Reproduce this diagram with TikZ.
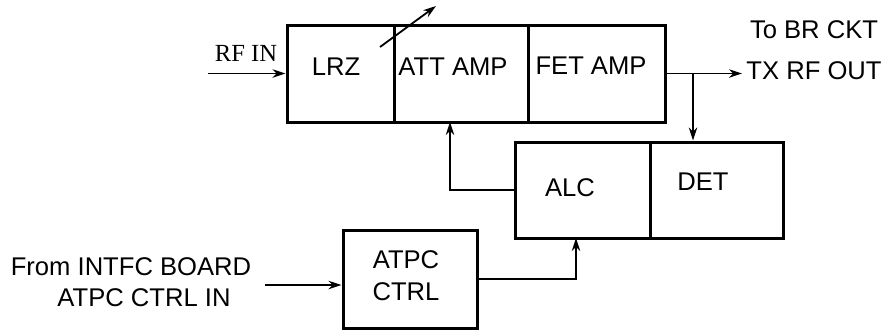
\documentclass[tikz,border=0pt]{standalone}
\usepackage{fontspec}
\setmainfont{Liberation Sans}
\newfontfamily\serifrm{Liberation Serif}
\usetikzlibrary{arrows.meta}
\begin{document}
\begin{tikzpicture}[x=0.5pt,y=-0.5pt,
  blk/.style={draw, line width=1.5pt, inner sep=0pt, minimum height=48.5pt},
  txt/.style={inner sep=0pt, font=\fontsize{12.8}{15}\selectfont},
  conn/.style={line width=0.9pt, -{Stealth[length=6.5pt,width=4.2pt]}},
  wire/.style={line width=0.9pt}]
\useasboundingbox (0,0) rectangle (886,334);
% top chain
\node[blk, minimum width=53.5pt] (lrz) at (340.5,73.5) {};
\node[blk, minimum width=67pt] (att) at (461,73.5) {};
\node[blk, minimum width=68.5pt] (fet) at (596.5,73.5) {};
\node[txt] (tlrz) at (336,67) {LRZ};
\node[txt] (tatt) at (453,67) {ATT AMP};
\node[txt] (tfet) at (591,66) {FET AMP};
% ALC / DET
\node[blk, minimum width=67.5pt, minimum height=48pt] (alc) at (582.5,190) {};
\node[blk, minimum width=66.5pt, minimum height=48pt] (det) at (716.5,190) {};
\node[txt] (talc) at (570,188) {ALC};
\node[txt] (tdet) at (703,182) {DET};
% ATPC CTRL
\node[blk, minimum width=67pt, minimum height=49pt] (atpc) at (410,279) {};
\node[txt, align=center] (tatpc) at (406,276) {ATPC\\[1pt]CTRL};
% labels
\node[inner sep=0pt, font=\serifrm\fontsize{12.3}{14}\selectfont] (rfin) at (246,53) {RF IN};
\node[txt] (tobr) at (814,30) {To BR CKT};
\node[txt] (txout) at (814,71) {TX RF OUT};
\node[txt] (from) at (131,267) {From INTFC BOARD};
\node[txt] (atpcin) at (144,298) {ATPC CTRL IN};
% connector coordinates
\coordinate (rfs) at (208,73.5);
\coordinate (outend) at (742,73.5);
\coordinate (br) at (693,73.5);
\coordinate (a1) at (450,122);
\coordinate (a2) at (576,238);
\coordinate (ins) at (265,285);
\coordinate (v1) at (380,47);
\coordinate (v2) at (436,6);
% connectors
\draw[conn] (rfs) -- (lrz.west);
\draw[conn] (fet.east) -- (outend);
\draw[conn] (br) -- (br |- det.north);
\draw[conn] (alc.west) -| (a1);
\draw[conn] (atpc.east) -| (a2);
\draw[conn] (ins) -- (ins -| atpc.west);
\draw[conn] (v1) -- (v2);
\end{tikzpicture}
\end{document}
